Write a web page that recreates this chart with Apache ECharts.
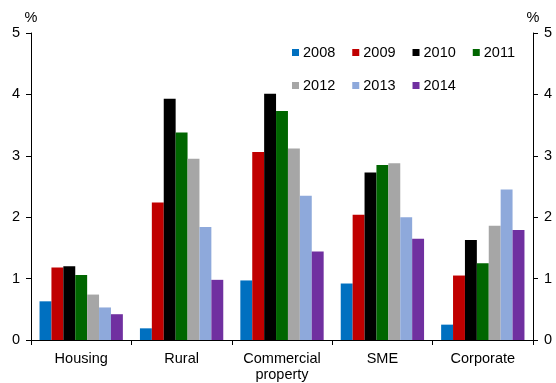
<!DOCTYPE html>
<html>
<head>
<meta charset="utf-8">
<script src="https://cdn.jsdelivr.net/npm/echarts@6/dist/echarts.min.js"></script>
<style>
  html, body { margin: 0; padding: 0; background: #fff; }
  #chart { width: 556px; height: 383px; }
</style>
</head>
<body>
<div id="chart"></div>
<script>
// loan categories on the x axis
var categories = ['Housing', 'Rural', 'Commercial\nproperty', 'SME', 'Corporate'];
var years = ['2008', '2009', '2010', '2011', '2012', '2013', '2014'];
var yTicks = [0, 1, 2, 3, 4, 5];

// values, per year (%)
var y2008 = [0.63, 0.19, 0.97, 0.92, 0.25];
var y2009 = [1.18, 2.24, 3.06, 2.04, 1.05];
var y2010 = [1.20, 3.93, 4.01, 2.73, 1.63];
var y2011 = [1.06, 3.38, 3.73, 2.85, 1.25];
var y2012 = [0.74, 2.95, 3.12, 2.88, 1.86];
var y2013 = [0.53, 1.84, 2.35, 2.00, 2.45];
var y2014 = [0.42, 0.98, 1.44, 1.65, 1.79];

var values = [y2008, y2009, y2010, y2011, y2012, y2013, y2014];
var colors = ['#0070C0', '#C00000', '#000000', '#006600', '#A6A6A6', '#8EA9DB', '#7030A0'];

var font = 'Liberation Sans, Arial, sans-serif';
var fs = 14.5;

var myChart = echarts.init(document.getElementById('chart'));

function yAxisOpt(pos) {
  return {
    type: 'value',
    position: pos,
    min: yTicks[0],
    max: yTicks[yTicks.length - 1],
    interval: 1,
    name: '%',
    nameLocation: 'end',
    nameGap: 1,
    nameTextStyle: { color: '#000', fontSize: fs, fontFamily: font },
    axisLine: { show: true, lineStyle: { color: '#000', width: 1 } },
    axisTick: { show: true, inside: false, length: 5, lineStyle: { color: '#000' } },
    axisLabel: { color: '#000', fontSize: fs, fontFamily: font, margin: 11 },
    splitLine: { show: false }
  };
}

var legendBase = {
  icon: 'rect',
  itemWidth: 7,
  itemHeight: 7,
  itemGap: 17,
  orient: 'horizontal',
  textStyle: { color: '#000', fontSize: fs, fontFamily: font, padding: [0, 0, 0, -1] },
  selectedMode: false
};

var option = {
  animation: false,
  backgroundColor: '#fff',
  grid: { left: 31, right: 23, top: 33, bottom: 41 },
  legend: [
    Object.assign({}, legendBase, { left: 287, top: 40, data: years.slice(0, 4) }),
    Object.assign({}, legendBase, { left: 287, top: 73, data: years.slice(4) })
  ],
  xAxis: {
    type: 'category',
    data: categories,
    axisLine: { lineStyle: { color: '#000', width: 1 } },
    axisTick: { show: true, interval: 0, length: 5, lineStyle: { color: '#000' } },
    axisLabel: { color: '#000', fontSize: fs, fontFamily: font, margin: 11, lineHeight: 16, interval: 0, hideOverlap: false }
  },
  yAxis: [yAxisOpt('left'), yAxisOpt('right')],
  series: years.map(function (y, i) {
    return {
      name: y,
      type: 'bar',
      yAxisIndex: 0,
      barGap: '0%',
      barCategoryGap: '17%',
      itemStyle: { color: colors[i] },
      data: values[i]
    };
  })
};

myChart.setOption(option);
</script>
</body>
</html>
